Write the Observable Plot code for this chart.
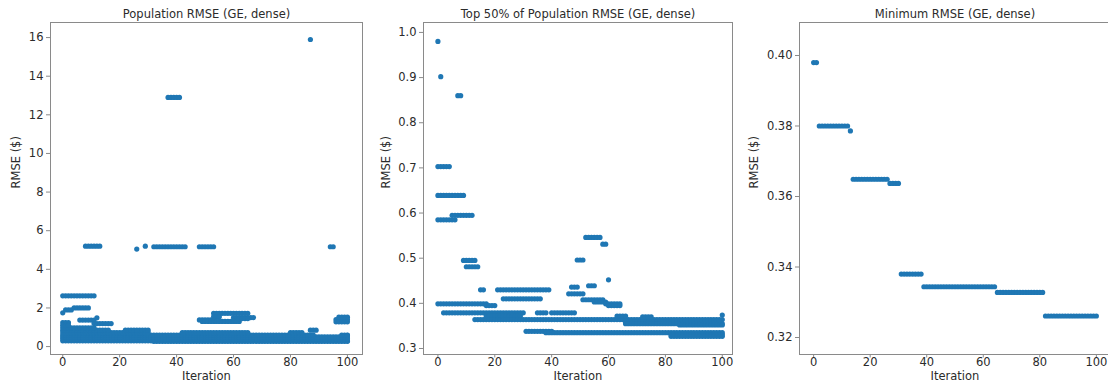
<!DOCTYPE html>
<html>
<head>
<meta charset="utf-8">
<script src="https://cdn.jsdelivr.net/npm/d3@7"></script>
<script src="https://cdn.jsdelivr.net/npm/@observablehq/plot@0.6"></script>
<style>
  html, body { margin: 0; padding: 0; background: #fff; overflow: hidden; }
  #wrap { position: relative; width: 1108px; height: 383px; overflow: hidden; background: #fff; }
  #wrap svg { position: absolute; top: 0; }
</style>
</head>
<body>
<div id="wrap"></div>
<script>
// Titles and tick labels
const titles = ["Population RMSE (GE, dense)", "Top 50% of Population RMSE (GE, dense)", "Minimum RMSE (GE, dense)"];
const xLabel = "Iteration";
const yLabel = "RMSE ($)";
const xTicks = [0, 20, 40, 60, 80, 100];
const popTicks = [0, 2, 4, 6, 8, 10, 12, 14, 16];
const topTicks = [0.3, 0.4, 0.5, 0.6, 0.7, 0.8, 0.9, 1.0];
const minTicks = [0.32, 0.34, 0.36, 0.38, 0.40];

// Panel 1: population RMSE, runs of equal values (value, first iteration, last iteration)
const popLevel = [15.9, 12.9, 5.2, 5.05, 5.2, 5.17, 5.17, 5.17, 2.63, 1.75, 1.9, 2.0, 1.37, 1.49, 1.19, 1.24,
  1.72, 1.55, 1.5, 1.38, 1.3, 1.45, 1.52, 1.4, 1.28,
  0.27, 0.3, 0.4, 0.5, 0.6, 0.6, 0.72, 0.72, 0.72, 0.85, 0.85, 0.85, 0.97, 1.1, 0.58];
const popFrom = [87, 37, 8, 26, 29, 32, 48, 94, 0, 0, 1, 4, 6, 12, 11, 0,
  53, 53, 60, 48, 49, 62, 97, 96, 96,
  32, 0, 0, 0, 0, 98, 0, 42, 80, 0, 22, 87, 0, 0, 100];
const popTo = [87, 41, 13, 26, 29, 43, 53, 95, 11, 0, 3, 9, 11, 12, 17, 2,
  65, 55, 67, 53, 62, 65, 100, 100, 100,
  100, 100, 100, 100, 88, 100, 30, 65, 84, 16, 30, 89, 11, 2, 100];

// Panel 2: top 50% of population RMSE
const topLevel = [0.98, 0.902, 0.86, 0.703, 0.639, 0.585, 0.595, 0.495, 0.481, 0.43, 0.43, 0.41, 0.399, 0.395,
  0.379, 0.379, 0.379, 0.372, 0.364, 0.546, 0.531, 0.496, 0.436, 0.439, 0.421, 0.408, 0.403, 0.399, 0.395,
  0.452, 0.372, 0.37, 0.359, 0.355, 0.352, 0.362, 0.374, 0.338, 0.335, 0.331, 0.327];
const topFrom = [0, 1, 7, 0, 0, 0, 5, 9, 10, 15, 21, 23, 0, 17,
  2, 35, 40, 17, 13, 52, 58, 49, 47, 53, 46, 51, 55, 59, 60,
  60, 63, 72, 66, 66, 85, 83, 100, 31, 38, 82, 82];
const topTo = [0, 1, 8, 4, 9, 6, 12, 13, 14, 16, 39, 36, 17, 20,
  30, 38, 48, 29, 100, 57, 59, 51, 49, 55, 51, 58, 59, 64, 64,
  60, 66, 75, 84, 100, 100, 99, 100, 40, 100, 100, 100];

// Panel 3: minimum RMSE
const minLevel = [0.398, 0.380, 0.3786, 0.3649, 0.3637, 0.338, 0.3344, 0.3328, 0.3261];
const minFrom = [0, 2, 13, 14, 27, 31, 39, 65, 82];
const minTo = [1, 12, 13, 26, 30, 38, 64, 81, 100];

function expand(level, from, to) {
  const rows = [];
  for (let k = 0; k < level.length; k++) {
    for (let i = from[k]; i <= to[k]; i++) rows.push({iteration: i, rmse: level[k]});
  }
  return rows;
}

const blue = "#1f77b4";
const textColor = "#2b2b2b";
const lineColor = "#8a8a8a";

const panels = [
  {left: 0, width: 368, ml: 50, mr: 6, xdom: [-4.3, 105.3], ydom: [-0.41, 16.78], yticks: popTicks, fmt: d3.format("d"), ylab: -34, title: titles[0], data: expand(popLevel, popFrom, popTo)},
  {left: 370, width: 368, ml: 53, mr: 6, xdom: [-5.07, 103.6], ydom: [0.2867, 1.022], yticks: topTicks, fmt: d3.format(".1f"), ylab: -37, title: titles[1], data: expand(topLevel, topFrom, topTo)},
  {left: 738, width: 378, ml: 61, mr: 6, xdom: [-5, 105], ydom: [0.31518, 0.40936], yticks: minTicks, fmt: d3.format(".2f"), ylab: -45, title: titles[2], data: expand(minLevel, minFrom, minTo)}
];

const wrap = document.getElementById("wrap");
for (const p of panels) {
  const svg = Plot.plot({
    width: p.width,
    height: 383,
    marginTop: 22,
    marginBottom: 29,
    marginLeft: p.ml,
    marginRight: p.mr,
    style: {fontFamily: "DejaVu Sans", fontSize: "11.5px", color: textColor, background: "#fff", overflow: "visible"},
    x: {domain: p.xdom},
    y: {domain: p.ydom},
    marks: [
      Plot.dot(p.data, {x: "iteration", y: "rmse", r: 2.6, fill: blue, stroke: null}),
      Plot.frame({stroke: lineColor}),
      Plot.axisX({ticks: xTicks, tickSize: 3.5, tickPadding: 0, label: null, stroke: lineColor}),
      Plot.axisY({ticks: p.yticks, tickFormat: p.fmt, tickSize: 4, tickPadding: 3, label: null, stroke: lineColor}),
      Plot.text([p.title], {frameAnchor: "top", lineAnchor: "middle", dy: -8, fontSize: 11.5, fill: textColor}),
      Plot.text([xLabel], {frameAnchor: "bottom", lineAnchor: "middle", dy: 22, fontSize: 11.5, fill: textColor}),
      Plot.text([yLabel], {frameAnchor: "left", dx: p.ylab, rotate: -90, fontSize: 11.5, fill: textColor})
    ]
  });
  svg.style.left = p.left + "px";
  wrap.appendChild(svg);
}
</script>
</body>
</html>
